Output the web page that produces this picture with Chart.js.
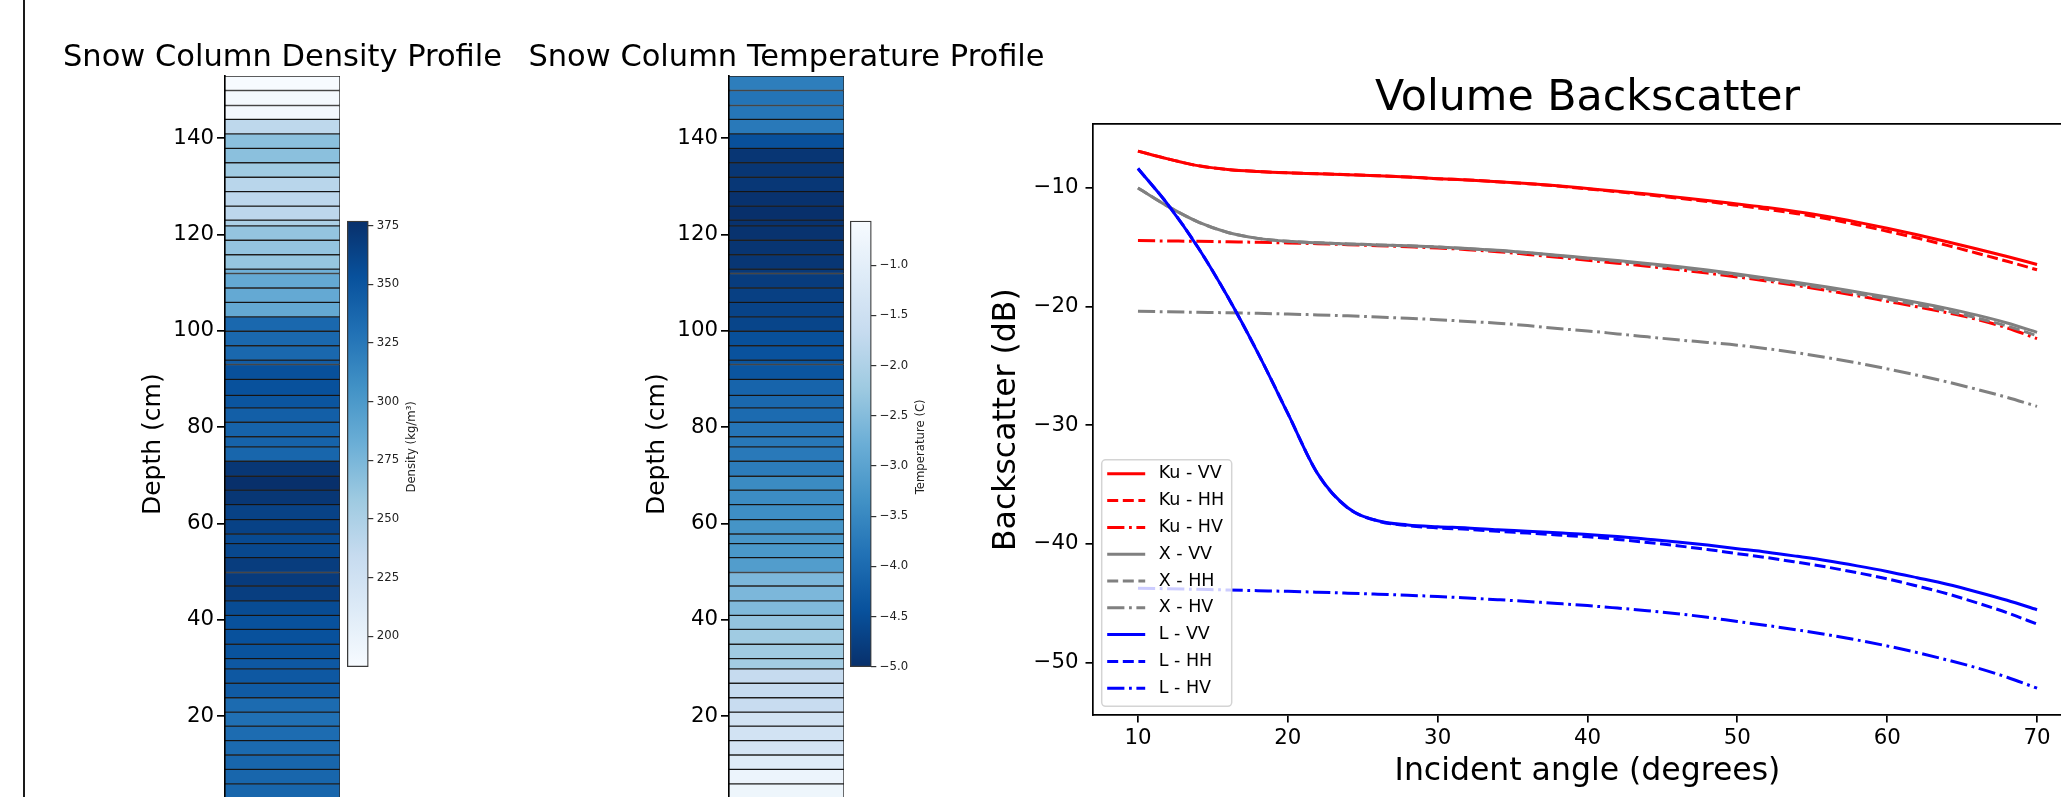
<!DOCTYPE html>
<html>
<head>
<meta charset="utf-8">
<title>Snow column profiles and volume backscatter</title>
<script src="https://cdn.jsdelivr.net/npm/chart.js@4.4.0/dist/chart.umd.min.js"></script>
<style>
  html, body { margin: 0; padding: 0; background: #fff; overflow: hidden; }
  #page { position: relative; width: 2061px; height: 797px; overflow: hidden; background: #fff; }
  #page canvas { position: absolute; top: 0; }
  #frame { position: absolute; left: 23px; top: 0; width: 2px; height: 797px; background: #1a1a1a; }
</style>
</head>
<body>
<div id="page">
  <div id="frame"></div>
  <canvas id="densityChart" width="565" height="850" style="left:0px"></canvas>
  <canvas id="densityBar" width="130" height="700" style="left:340px"></canvas>
  <canvas id="tempChart" width="565" height="850" style="left:504px"></canvas>
  <canvas id="tempBar" width="130" height="700" style="left:843px"></canvas>
  <canvas id="backscatterChart" width="1140" height="797" style="left:960px"></canvas>
</div>
<script>
// snow layer boundaries (cm above ground), bottom to top
var layerEdges = [0, 2.9, 5.9, 8.9, 11.9, 14.9, 17.9, 20.8, 23.8, 26.8, 29.8, 31.9, 34.9, 38.0, 40.9,
  43.9, 47.0, 49.8, 52.9, 55.8, 57.8, 60.8, 63.9, 66.9, 69.8, 72.9, 75.9, 78.0, 81.0, 84.0, 86.6, 89.9,
  93.0, 93.9, 96.9, 99.9, 102.9, 105.9, 108.9, 111.9, 112.8, 115.8, 118.8, 121.8, 123.0, 125.9, 128.9,
  131.9, 134.9, 137.9, 140.9, 143.9, 146.8, 149.9, 152.9];

// one value per layer, bottom to top
var layerDensity = [338, 338, 338, 338, 335, 333, 330, 334, 346, 348, 348, 352, 353, 353, 357, 367, 369,
  368, 360, 358, 364, 364, 372, 377, 372, 338, 340, 340, 343, 350, 353, 354, 345, 336, 336, 336, 286, 286,
  286, 280, 262, 263, 263, 250, 240, 240, 242, 257, 267, 267, 239, 191, 190, 187];
var layerTemperature = [-0.56, -0.75, -0.80, -1.11, -1.35, -1.40, -1.40, -1.62, -1.67, -1.67, -2.15, -2.20,
  -2.20, -2.35, -2.55, -2.60, -2.60, -3.12, -3.22, -3.25, -3.30, -3.40, -3.43, -3.45, -3.70, -3.75, -3.78,
  -3.82, -4.00, -4.05, -4.11, -4.37, -4.40, -4.43, -4.47, -4.65, -4.68, -4.73, -4.80, -4.85, -4.90, -4.92,
  -4.95, -4.97, -5.00, -4.97, -4.88, -4.90, -4.90, -4.46, -3.75, -3.80, -3.84, -3.67];

// backscatter model output
var angles = [10, 12, 14, 16, 18, 20, 22, 24, 26, 28, 30, 32, 34, 36, 38, 40, 42, 44, 46, 48, 50, 52, 54,
  56, 58, 60, 62, 64, 66, 68, 70];
var kuVV = [-6.9, -7.55, -8.12, -8.45, -8.62, -8.73, -8.8, -8.88, -8.97, -9.08, -9.22, -9.33, -9.47, -9.63,
  -9.82, -10.05, -10.28, -10.52, -10.78, -11.05, -11.35, -11.65, -12.0, -12.4, -12.88, -13.4, -13.95,
  -14.53, -15.14, -15.78, -16.45];
var kuHH = [-6.9, -7.55, -8.12, -8.45, -8.62, -8.73, -8.8, -8.88, -8.97, -9.08, -9.22, -9.33, -9.48, -9.64,
  -9.84, -10.08, -10.32, -10.58, -10.86, -11.15, -11.47, -11.8, -12.17, -12.6, -13.1, -13.65, -14.22,
  -14.84, -15.5, -16.18, -16.9];
var kuHV = [-14.44, -14.47, -14.5, -14.54, -14.58, -14.63, -14.7, -14.78, -14.87, -14.96, -15.06, -15.2,
  -15.37, -15.6, -15.84, -16.1, -16.34, -16.6, -16.88, -17.18, -17.5, -17.85, -18.23, -18.64, -19.08,
  -19.55, -20.02, -20.52, -21.08, -21.8, -22.7];
var xVV = [-10.0, -11.55, -12.85, -13.75, -14.25, -14.5, -14.62, -14.72, -14.8, -14.88, -14.97, -15.1,
  -15.25, -15.45, -15.67, -15.9, -16.12, -16.37, -16.63, -16.92, -17.25, -17.6, -17.97, -18.35, -18.77,
  -19.19, -19.65, -20.15, -20.72, -21.38, -22.17];
var xHH = [-10.0, -11.55, -12.85, -13.75, -14.25, -14.5, -14.62, -14.72, -14.8, -14.88, -14.98, -15.12,
  -15.28, -15.48, -15.71, -15.95, -16.18, -16.44, -16.71, -17.01, -17.35, -17.71, -18.09, -18.49, -18.92,
  -19.37, -19.85, -20.37, -20.96, -21.64, -22.45];
var xHV = [-20.4, -20.44, -20.48, -20.52, -20.57, -20.63, -20.7, -20.78, -20.88, -20.98, -21.1, -21.25,
  -21.4, -21.6, -21.85, -22.05, -22.3, -22.55, -22.8, -23.02, -23.25, -23.55, -23.9, -24.3, -24.75, -25.25,
  -25.78, -26.35, -26.98, -27.65, -28.41];
var lVV = [-8.36, -11.4, -15.0, -19.2, -23.9, -29.0, -34.1, -36.95, -38.05, -38.4, -38.55, -38.65, -38.8,
  -38.93, -39.07, -39.2, -39.38, -39.6, -39.83, -40.1, -40.4, -40.7, -41.05, -41.42, -41.85, -42.32,
  -42.85, -43.4, -44.05, -44.75, -45.55];
var lHH = [-8.36, -11.4, -15.0, -19.2, -23.9, -29.0, -34.1, -36.97, -38.07, -38.46, -38.65, -38.77, -38.94,
  -39.09, -39.25, -39.4, -39.62, -39.88, -40.16, -40.47, -40.82, -41.16, -41.55, -41.96, -42.43, -42.94,
  -43.55, -44.2, -44.97, -45.8, -46.76];
var lHV = [-43.73, -43.78, -43.83, -43.88, -43.94, -44.0, -44.07, -44.15, -44.24, -44.33, -44.43, -44.56,
  -44.7, -44.85, -45.02, -45.2, -45.41, -45.63, -45.88, -46.19, -46.54, -46.88, -47.25, -47.65, -48.1,
  -48.6, -49.16, -49.78, -50.45, -51.24, -52.16];

var seriesLabels = ['Ku - VV', 'Ku - HH', 'Ku - HV', 'X - VV', 'X - HH', 'X - HV', 'L - VV', 'L - HH', 'L - HV'];
var seriesValues = [kuVV, kuHH, kuHV, xVV, xHH, xHV, lVV, lHH, lHV];
var seriesColors = ['#ff0000', '#ff0000', '#ff0000', '#808080', '#808080', '#808080', '#0000ff', '#0000ff', '#0000ff'];
var solid = [], dashed = [11, 4.6], dashDot = [17.2, 4.6, 2.8, 4.6];
var seriesDashes = [solid, dashed, dashDot, solid, dashed, dashDot, solid, dashed, dashDot];

// matplotlib "Blues"
var BLUES = [[247, 251, 255], [222, 235, 247], [198, 219, 239], [158, 202, 225], [107, 174, 214],
  [66, 146, 198], [33, 113, 181], [8, 81, 156], [8, 48, 107]];

function rgb(c) {
  return 'rgb(' + c[0] + ',' + c[1] + ',' + c[2] + ')';
}

function blues(t) {
  t = Math.max(0, Math.min(1, t));
  var p = t * 8;
  var i = Math.min(7, Math.floor(p));
  var f = p - i;
  var a = BLUES[i], b = BLUES[i + 1];
  return rgb([0, 1, 2].map(function (k) { return Math.round(a[k] + (b[k] - a[k]) * f); }));
}

var densMin = Math.min.apply(null, layerDensity), densMax = Math.max.apply(null, layerDensity);
var tempMin = Math.min.apply(null, layerTemperature), tempMax = Math.max.apply(null, layerTemperature);

function minusSign(s) {
  return String(s).replace('-', '\u2212');
}

Chart.defaults.font.family = "'DejaVu Sans', sans-serif";
Chart.defaults.color = '#000';
Chart.defaults.animation = false;
Chart.defaults.events = [];
Chart.defaults.plugins.legend.display = false;
Chart.defaults.plugins.tooltip.enabled = false;

// rotated label to the right of a colorbar (reads bottom to top like matplotlib)
var sideLabel = {
  id: 'sideLabel',
  afterDraw: function (chart, args, opts) {
    var ctx = chart.ctx, area = chart.chartArea;
    ctx.save();
    ctx.translate(opts.x, (area.top + area.bottom) / 2 + 3);
    ctx.rotate(-Math.PI / 2);
    ctx.font = "11.7px 'DejaVu Sans'";
    ctx.fillStyle = '#222';
    ctx.textAlign = 'center';
    ctx.textBaseline = 'middle';
    ctx.fillText(opts.text, 0, 0);
    ctx.restore();
  }
};

// matplotlib style legend box inside the lower left corner
var boxLegend = {
  id: 'boxLegend',
  afterDraw: function (chart) {
    var ctx = chart.ctx, area = chart.chartArea;
    var w = 130, h = 246.5, rowH = 26.8;
    var left = area.left + 8.7, top = area.bottom - 8.7 - h;
    ctx.save();
    ctx.beginPath();
    ctx.roundRect(left, top, w, h, 4);
    ctx.fillStyle = 'rgba(255,255,255,0.8)';
    ctx.fill();
    ctx.strokeStyle = '#d4d4d4';
    ctx.lineWidth = 1.5;
    ctx.stroke();
    ctx.font = "17.5px 'DejaVu Sans'";
    ctx.textAlign = 'left';
    ctx.textBaseline = 'middle';
    chart.data.datasets.forEach(function (ds, i) {
      var y = top + 14 + i * rowH;
      ctx.beginPath();
      ctx.setLineDash(ds.borderDash || []);
      ctx.strokeStyle = ds.borderColor;
      ctx.lineWidth = ds.borderWidth;
      ctx.moveTo(left + 5.5, y);
      ctx.lineTo(left + 43.5, y);
      ctx.stroke();
      ctx.setLineDash([]);
      ctx.fillStyle = '#000';
      ctx.fillText(ds.label, left + 57, y);
    });
    ctx.restore();
  }
};

function columnChart(id, title, values, colorOf) {
  return new Chart(document.getElementById(id), {
    type: 'bar',
    data: {
      labels: ['snow'],
      datasets: [{
        data: values.map(function (v, i) {
          return { x: 'snow', y: [layerEdges[i], layerEdges[i + 1]] };
        }),
        backgroundColor: values.map(colorOf),
        borderColor: 'rgba(0,0,0,0.85)',
        borderWidth: 1,
        borderSkipped: false,
        barPercentage: 1,
        categoryPercentage: 1
      }]
    },
    options: {
      responsive: false,
      layout: { padding: { left: 0, right: 0, top: 0, bottom: 37.7 } },
      plugins: {
        title: {
          display: true,
          text: title,
          color: '#000',
          font: { size: 30.5, weight: 'normal' },
          padding: { top: 39.5, bottom: 0 }
        }
      },
      scales: {
        x: { display: false },
        y: {
          min: 0,
          max: layerEdges[layerEdges.length - 1],
          ticks: { stepSize: 20, includeBounds: false, color: '#000', font: { size: 21.3 }, padding: 3 },
          grid: { drawOnChartArea: false, tickLength: 8, color: '#000', lineWidth: 1.7 },
          border: { color: '#000', width: 1.7 },
          title: { display: true, text: 'Depth (cm)', color: '#000', font: { size: 25 }, padding: { top: 138, bottom: 0 } },
          afterFit: function (s) { s.width = 225; }
        },
        // empty axis that only keeps the space on the right of the column
        spacer: {
          position: 'right',
          ticks: { display: false },
          grid: { display: false },
          border: { display: false },
          afterFit: function (s) { s.width = 225; }
        }
      }
    }
  });
}

function colorbarChart(id, vmin, vmax, step, reversed, label, labelX, fmt) {
  return new Chart(document.getElementById(id), {
    type: 'bar',
    plugins: [sideLabel],
    data: {
      labels: ['cb'],
      datasets: [{
        data: [{ x: 'cb', y: [vmin, vmax] }],
        backgroundColor: function (c) {
          var chart = c.chart, y = chart.scales.y;
          if (!chart.chartArea || !y) return rgb(BLUES[4]);
          var g = chart.ctx.createLinearGradient(0, y.getPixelForValue(vmin), 0, y.getPixelForValue(vmax));
          for (var i = 0; i < BLUES.length; i++) {
            g.addColorStop(i / 8, rgb(BLUES[reversed ? 8 - i : i]));
          }
          return g;
        },
        borderColor: '#3a3a3a',
        borderWidth: 1.3,
        borderSkipped: false,
        barPercentage: 1,
        categoryPercentage: 1,
        clip: false
      }]
    },
    options: {
      responsive: false,
      layout: { padding: { left: 7.3, right: 41.7, top: 221, bottom: 33.3 } },
      plugins: { sideLabel: { text: label, x: labelX } },
      scales: {
        x: { display: false },
        y: {
          position: 'right',
          min: vmin,
          max: vmax,
          ticks: { stepSize: step, includeBounds: false, color: '#222', font: { size: 11.7 }, padding: 3.5, callback: fmt },
          grid: { drawOnChartArea: false, tickLength: 5, color: '#333', lineWidth: 1.2 },
          border: { display: false },
          afterFit: function (s) { s.width = 60; }
        }
      }
    }
  });
}

columnChart('densityChart', 'Snow Column Density Profile', layerDensity, function (v) {
  return blues((v - densMin) / (densMax - densMin));
});
colorbarChart('densityBar', densMin, densMax, 25, false, 'Density (kg/m\u00b3)', 71.8, function (v) {
  return String(v);
});

columnChart('tempChart', 'Snow Column Temperature Profile', layerTemperature, function (v) {
  return blues((tempMax - v) / (tempMax - tempMin));
});
colorbarChart('tempBar', tempMin, tempMax, 0.5, true, 'Temperature (C)', 77.5, function (v) {
  return minusSign(v.toFixed(1));
});

new Chart(document.getElementById('backscatterChart'), {
  type: 'line',
  plugins: [boxLegend],
  data: {
    datasets: seriesValues.map(function (vals, i) {
      return {
        label: seriesLabels[i],
        data: angles.map(function (a, j) { return { x: a, y: vals[j] }; }),
        borderColor: seriesColors[i],
        borderDash: seriesDashes[i],
        borderWidth: 3,
        pointRadius: 0,
        fill: false,
        cubicInterpolationMode: 'monotone',
        order: seriesValues.length - i
      };
    })
  },
  options: {
    responsive: false,
    layout: { padding: { left: 0, right: 18, top: 0, bottom: 0 } },
    plugins: {
      title: {
        display: true,
        text: 'Volume Backscatter',
        color: '#000',
        fullSize: false,
        font: { size: 42.7, weight: 'normal' },
        padding: { top: 72.9, bottom: 0.2 }
      }
    },
    scales: {
      x: {
        type: 'linear',
        position: 'bottom',
        min: 7,
        max: 73,
        ticks: { stepSize: 10, includeBounds: false, color: '#000', font: { size: 21.3 }, padding: 3 },
        grid: { drawOnChartArea: false, tickLength: 7.5, color: '#000', lineWidth: 1.7 },
        border: { color: '#000', width: 1.7 },
        title: { display: true, text: 'Incident angle (degrees)', color: '#000', font: { size: 31.5 }, padding: { top: 0, bottom: 6 } },
        afterFit: function (s) { s.height = 82; }
      },
      top: {
        type: 'linear',
        position: 'top',
        min: 7,
        max: 73,
        ticks: { display: false },
        grid: { display: false },
        border: { color: '#000', width: 1.7 },
        afterFit: function (s) { s.height = 0; }
      },
      y: {
        min: -54.42,
        max: -4.64,
        ticks: {
          stepSize: 10,
          includeBounds: false,
          color: '#000',
          font: { size: 21.3 },
          padding: 7,
          callback: function (v) { return minusSign(v); }
        },
        grid: { drawOnChartArea: false, tickLength: 7.5, color: '#000', lineWidth: 1.7 },
        border: { color: '#000', width: 1.7 },
        title: { display: true, text: 'Backscatter (dB)', color: '#000', font: { size: 31.5 }, padding: { top: 28, bottom: 0 } },
        afterFit: function (s) { s.width = 133; }
      }
    }
  }
});
</script>
</body>
</html>
